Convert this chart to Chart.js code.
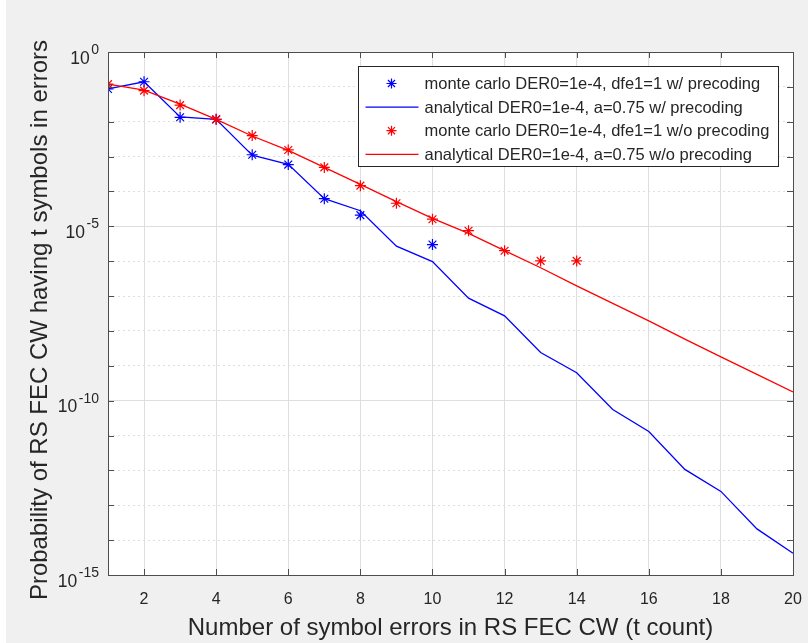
<!DOCTYPE html>
<html>
<head>
<meta charset="utf-8">
<script src="https://cdn.jsdelivr.net/npm/chart.js"></script>
<style>
  html, body { margin: 0; padding: 0; background: #f0f0f0; }
  canvas { display: block; }
</style>
</head>
<body>
<canvas id="plot" width="808" height="643"></canvas>
<script>
// t count (x axis)
const tCount = [1, 2, 3, 4, 5, 6, 7, 8, 9, 10, 11, 12, 13, 14, 15, 16, 17, 18, 19, 20];
const xTicks = [2, 4, 6, 8, 10, 12, 14, 16, 18, 20];
const yExponents = [0, -1, -2, -3, -4, -5, -6, -7, -8, -9, -10, -11, -12, -13, -14, -15];
const yLabelExponents = [0, -5, -10, -15];

// monte carlo w/ precoding (no point at t=9)
const mcPrecodingT = [1, 2, 3, 4, 5, 6, 7, 8, 10];
const mcPrecoding = [0.087, 0.14, 0.0134, 0.0117, 1.13e-3, 5.9e-4, 6.2e-5, 2.1e-5, 3.0e-6];
// analytical w/ precoding
const anPrecoding = [0.087, 0.14, 0.0138, 0.0117, 1.1e-3, 6.0e-4, 6.2e-5, 2.8e-5, 2.7e-6, 9.7e-7,
  8.7e-8, 2.7e-8, 2.4e-9, 6.3e-10, 5.6e-11, 1.3e-11, 1.07e-12, 2.5e-13, 2.1e-14, 4.2e-15];
// monte carlo w/o precoding
const mcNoPrecodingT = [1, 2, 3, 4, 5, 6, 7, 8, 9, 10, 11, 12, 13, 14];
const mcNoPrecoding = [0.12, 0.078, 0.030, 0.0117, 4.0e-3, 1.55e-3, 4.9e-4, 1.47e-4, 4.6e-5, 1.6e-5,
  7.5e-6, 2.0e-6, 1.02e-6, 1.02e-6];
// analytical w/o precoding
const anNoPrecoding = [0.12, 0.081, 0.032, 0.0117, 3.9e-3, 1.5e-3, 4.9e-4, 1.6e-4, 5.1e-5, 1.7e-5,
  6.3e-6, 2.0e-6, 6.5e-7, 1.95e-7, 6.2e-8, 1.94e-8, 5.8e-9, 1.8e-9, 5.7e-10, 1.78e-10];

const labels = [
  'monte carlo DER0=1e-4, dfe1=1 w/ precoding',
  'analytical DER0=1e-4, a=0.75 w/ precoding',
  'monte carlo DER0=1e-4, dfe1=1 w/o precoding',
  'analytical DER0=1e-4, a=0.75 w/o precoding'
];

const pts = (xs, ys) => xs.map((x, i) => ({ x: x, y: ys[i] }));
const FONT = '"Liberation Sans", Arial, Helvetica, sans-serif';
const AXIS = '#4d4d4d';
const TEXT = '#262626';

const matlabLook = {
  id: 'matlabLook',
  beforeDraw(chart) {
    const { ctx, chartArea: a } = chart;
    ctx.save();
    ctx.fillStyle = '#f0f0f0';
    ctx.fillRect(0, 0, chart.width, chart.height);
    ctx.fillStyle = '#ffffff';
    ctx.fillRect(0, 0, 6, chart.height);
    ctx.fillRect(a.left, a.top, a.right - a.left, a.bottom - a.top);
    ctx.restore();
  },
  afterDraw(chart) {
    const { ctx, chartArea: a } = chart;
    const xs = chart.scales.x, ys = chart.scales.y;
    ctx.save();
    // box
    ctx.strokeStyle = AXIS;
    ctx.lineWidth = 1;
    ctx.strokeRect(Math.round(a.left) + 0.5, Math.round(a.top) + 0.5,
      Math.round(a.right - a.left), Math.round(a.bottom - a.top));
    // inward ticks
    ctx.beginPath();
    xTicks.forEach(v => {
      const px = Math.round(xs.getPixelForValue(v)) + 0.5;
      ctx.moveTo(px, a.bottom); ctx.lineTo(px, a.bottom - 6);
      ctx.moveTo(px, a.top); ctx.lineTo(px, a.top + 6);
    });
    yExponents.forEach(e => {
      const py = Math.round(ys.getPixelForValue(Math.pow(10, e))) + 0.5;
      ctx.moveTo(a.left, py); ctx.lineTo(a.left + 6, py);
      ctx.moveTo(a.right, py); ctx.lineTo(a.right - 6, py);
    });
    ctx.stroke();

    // x tick labels
    ctx.fillStyle = TEXT;
    ctx.font = '16px ' + FONT;
    ctx.textAlign = 'center';
    ctx.textBaseline = 'alphabetic';
    xTicks.forEach(v => ctx.fillText(String(v), xs.getPixelForValue(v), a.bottom + 29));

    // y tick labels 10^n
    ctx.textAlign = 'right';
    yLabelExponents.forEach(e => {
      const py = ys.getPixelForValue(Math.pow(10, e));
      const sup = e === 0 ? '0' : '-' + String(-e);
      ctx.font = '14px ' + FONT;
      const w = ctx.measureText(sup).width;
      ctx.fillText(sup, a.left - 9, py + 2);
      ctx.font = '17.5px ' + FONT;
      ctx.fillText('10', a.left - 10.5 - w, py + 11.5);
    });

    // axis titles
    ctx.font = '24px ' + FONT;
    ctx.textAlign = 'center';
    ctx.fillText('Number of symbol errors in RS FEC CW (t count)', (a.left + a.right) / 2, 635);
    ctx.save();
    ctx.translate(47, 320);
    ctx.rotate(-Math.PI / 2);
    ctx.fillText('Probability of RS FEC CW having t symbols in errors', 0, 0);
    ctx.restore();

    // legend
    const lx = 358.5, ly = 66.5, lw = 420, lh = 100;
    ctx.fillStyle = '#ffffff';
    ctx.fillRect(lx, ly, lw, lh);
    ctx.strokeStyle = '#262626';
    ctx.strokeRect(lx, ly, lw, lh);
    ctx.font = '16.5px ' + FONT;
    ctx.textAlign = 'left';
    ctx.textBaseline = 'middle';
    chart.data.datasets.forEach((ds, i) => {
      const ry = ly + 17 + i * 23.6;
      if (ds.showLine) {
        ctx.strokeStyle = ds.borderColor;
        ctx.lineWidth = ds.borderWidth;
        ctx.beginPath(); ctx.moveTo(lx + 7, ry); ctx.lineTo(lx + 60, ry); ctx.stroke();
      } else {
        const r = 5;
        ctx.strokeStyle = ds.borderColor;
        ctx.lineWidth = 1.2;
        ctx.beginPath();
        for (let k = 0; k < 4; k++) {
          const ang = k * Math.PI / 4;
          ctx.moveTo(lx + 33 + r * Math.cos(ang), ry + r * Math.sin(ang));
          ctx.lineTo(lx + 33 - r * Math.cos(ang), ry - r * Math.sin(ang));
        }
        ctx.stroke();
      }
      ctx.fillStyle = TEXT;
      ctx.fillText(ds.label, lx + 66, ry + 1);
    });
    ctx.restore();
  }
};

const gridColor = '#dedede';

new Chart(document.getElementById('plot'), {
  type: 'scatter',
  data: {
    datasets: [
      { label: labels[0], data: pts(mcPrecodingT, mcPrecoding), showLine: false,
        borderColor: '#0000ff', backgroundColor: 'transparent', pointStyle: 'star',
        pointRadius: 5.5, pointBorderWidth: 1.2, order: 4 },
      { label: labels[1], data: pts(tCount, anPrecoding), showLine: true,
        borderColor: '#0000ff', borderWidth: 1.3, pointRadius: 0, order: 3 },
      { label: labels[2], data: pts(mcNoPrecodingT, mcNoPrecoding), showLine: false,
        borderColor: '#ff0000', backgroundColor: 'transparent', pointStyle: 'star',
        pointRadius: 5.5, pointBorderWidth: 1.2, order: 2 },
      { label: labels[3], data: pts(tCount, anNoPrecoding), showLine: true,
        borderColor: '#ff0000', borderWidth: 1.3, pointRadius: 0, order: 1 }
    ]
  },
  options: {
    responsive: false,
    animation: false,
    devicePixelRatio: 1,
    layout: { padding: { left: 108, top: 52, right: 15, bottom: 68 } },
    plugins: { legend: { display: false }, tooltip: { enabled: false } },
    scales: {
      x: {
        type: 'linear', min: 1, max: 20,
        afterBuildTicks: s => { s.ticks = xTicks.map(v => ({ value: v })); },
        afterFit: s => { s.height = 0; },
        ticks: { display: false },
        grid: { color: gridColor, drawTicks: false },
        border: { display: false }
      },
      y: {
        type: 'logarithmic', min: 1e-15, max: 1,
        afterBuildTicks: s => { s.ticks = yExponents.map(e => ({ value: Math.pow(10, e) })); },
        afterFit: s => { s.width = 0; },
        ticks: { display: false },
        grid: { color: gridColor, drawTicks: false },
        border: {
          display: false,
          dash: ctx => {
            if (!ctx.tick) return [];
            const e = Math.round(Math.log10(ctx.tick.value));
            return e % 5 === 0 ? [] : [2, 3];
          }
        }
      }
    }
  },
  plugins: [matlabLook]
});
</script>
</body>
</html>
